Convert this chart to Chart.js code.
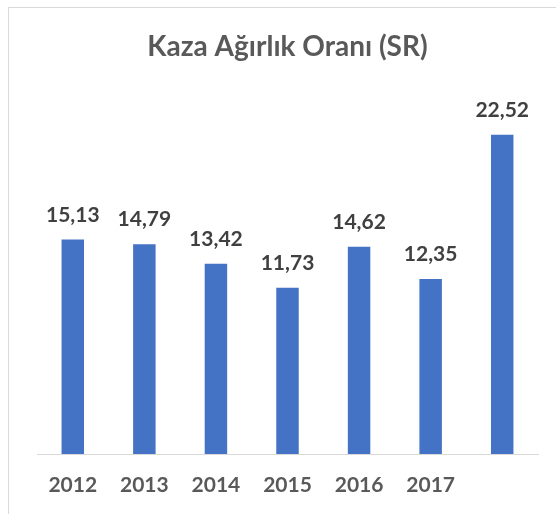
<!DOCTYPE html>
<html>
<head>
<meta charset="utf-8">
<script src="https://cdn.jsdelivr.net/npm/chart.js@4"></script>
<style>
  html, body { margin: 0; padding: 0; background: #fff; }
  #wrap { position: relative; width: 556px; height: 514px; overflow: hidden; }
  #frame {
    position: absolute; left: 8px; top: 7px; width: 600px; height: 600px;
    border-left: 1px solid #d9d9d9; border-top: 1px solid #d9d9d9;
  }
  #chart { position: absolute; left: 0; top: 0; }
</style>
</head>
<body>
<div id="wrap">
  <div id="frame"></div>
  <canvas id="chart" width="556" height="514"></canvas>
</div>
<script>
const titleText = "Kaza Ağırlık Oranı (SR)";
const years = ["2012", "2013", "2014", "2015", "2016", "2017", ""];
const rates = [15.13, 14.79, 13.42, 11.73, 14.62, 12.35, 22.52];

const barColor = "#4472C4";

// değerleri barların üstüne yaz (virgüllü)
const valueLabels = {
  id: "valueLabels",
  afterDatasetsDraw(chart) {
    const ctx = chart.ctx;
    const meta = chart.getDatasetMeta(0);
    ctx.save();
    ctx.font = "bold 21px Lato";
    ctx.fillStyle = "#404040";
    ctx.textAlign = "center";
    ctx.textBaseline = "alphabetic";
    meta.data.forEach((bar, i) => {
      const text = rates[i].toFixed(2).replace(".", ",");
      ctx.fillText(text, bar.x, bar.y - 18);
    });
    ctx.restore();
  },
};

new Chart(document.getElementById("chart"), {
  type: "bar",
  data: {
    labels: years,
    datasets: [
      {
        data: rates,
        backgroundColor: barColor,
        barPercentage: 0.314,
        categoryPercentage: 1,
      },
    ],
  },
  options: {
    responsive: false,
    animation: false,
    layout: { padding: { left: 37, right: 18, top: 0, bottom: 0 } },
    plugins: {
      legend: { display: false },
      tooltip: { enabled: false },
      title: {
        display: true,
        text: titleText,
        color: "#595959",
        font: { family: "Lato", size: 28, weight: "bold", lineHeight: 1.2 },
        padding: { top: 30, bottom: 36 },
      },
    },
    scales: {
      x: {
        grid: { display: false, drawTicks: false },
        border: { display: true, color: "#d9d9d9", width: 1 },
        ticks: {
          color: "#595959",
          font: { family: "Lato", size: 21, weight: "bold" },
          padding: 19,
          maxRotation: 0,
        },
        afterFit(scale) {
          scale.height = 60;
        },
      },
      y: {
        display: false,
        min: 0,
        max: 25,
      },
    },
  },
  plugins: [valueLabels],
});
</script>
</body>
</html>
